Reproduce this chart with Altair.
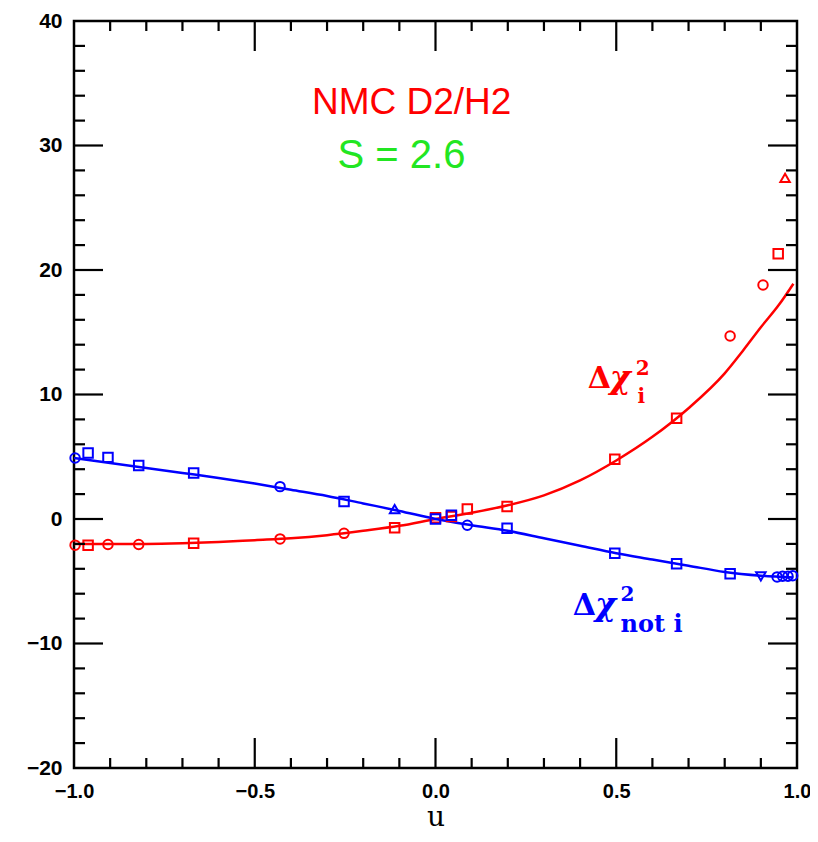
import altair as alt
import pandas as pd

# ---- data ----
u_pts = [-0.997, -0.961, -0.906, -0.821, -0.669, -0.430, -0.253, -0.113, 0.0, 0.044, 0.088,
         0.198, 0.496, 0.667, 0.815, 0.906, 0.948, 0.967]
red_pts = [-2.1, -2.1, -2.05, -2.05, -1.95, -1.6, -1.15, -0.7, 0.1, 0.2, 0.8,
           1.0, 4.8, 8.1, 14.7, 18.8, 21.3, 27.4]
red_shapes = ["circle", "square", "circle", "circle", "square", "circle", "circle", "square", "square",
              "square", "square", "square", "square", "square", "circle", "circle", "square", "triangle-up"]

u_blue = [-0.997, -0.961, -0.906, -0.821, -0.669, -0.430, -0.253, -0.113, 0.0, 0.044, 0.088,
          0.198, 0.496, 0.667, 0.815, 0.900, 0.945, 0.960, 0.975, 0.988]
blue_pts = [4.9, 5.3, 4.95, 4.3, 3.7, 2.6, 1.4, 0.8, 0.0, 0.3, -0.5,
            -0.75, -2.75, -3.6, -4.4, -4.6, -4.65, -4.6, -4.6, -4.55]
blue_shapes = ["circle", "square", "square", "square", "square", "circle", "square", "triangle-up", "square",
               "square", "circle", "square", "square", "square", "square", "triangle-down", "circle",
               "circle", "circle", "circle"]

u_red_curve = [-1.0, -0.9, -0.8, -0.7, -0.6, -0.5, -0.4, -0.3, -0.2, -0.1, 0.0, 0.1, 0.2, 0.3,
               0.4, 0.5, 0.6, 0.7, 0.8, 0.85, 0.9, 0.95, 0.99]
red_curve = [-2.0, -2.0, -2.0, -1.95, -1.85, -1.7, -1.55, -1.3, -0.95, -0.55, 0.0, 0.5, 1.1, 1.9,
             3.1, 4.7, 6.6, 8.9, 11.7, 13.5, 15.4, 17.2, 18.9]

u_blue_curve = [-1.0, -0.9, -0.8, -0.7, -0.6, -0.5, -0.4, -0.3, -0.2, -0.1, 0.0, 0.1, 0.2, 0.3,
                0.4, 0.5, 0.6, 0.7, 0.8, 0.9, 0.99]
blue_curve = [4.9, 4.5, 4.1, 3.7, 3.3, 2.85, 2.35, 1.85, 1.25, 0.65, 0.0, -0.5, -0.95, -1.55,
              -2.15, -2.75, -3.25, -3.75, -4.25, -4.55, -4.7]

x_major = [-0.5, 0.0, 0.5]
x_minor = [-0.9, -0.8, -0.7, -0.6, -0.4, -0.3, -0.2, -0.1, 0.1, 0.2, 0.3, 0.4, 0.6, 0.7, 0.8, 0.9]
y_major = [-10, 0, 10, 20, 30]
y_minor = [-18, -16, -14, -12, -8, -6, -4, -2, 2, 4, 6, 8, 12, 14, 16, 18, 22, 24, 26, 28, 32, 34, 36, 38]

W, H = 723, 747
RED, BLUE, GREEN = "#ff0000", "#0000ff", "#22e622"

xs = alt.Scale(domain=[-1, 1], nice=False, zero=False)
ys = alt.Scale(domain=[-20, 40], nice=False, zero=False)

X_AX = alt.Axis(values=[-1, -0.5, 0, 0.5, 1], format=".1f", ticks=False, domain=False, grid=False,
                labelFont="Liberation Sans", labelFontSize=20, labelFontWeight="bold", labelColor="black",
                labelPadding=13, title="u", titleFont="DejaVu Serif", titleFontSize=28,
                titleFontWeight="normal", titleColor="black", titleBaseline="alphabetic", titleY=57,
                labelFlush=False)
Y_AX = alt.Axis(values=[-20, -10, 0, 10, 20, 30, 40], format="d", ticks=False, domain=False, grid=False,
                labelFont="Liberation Sans", labelFontSize=21, labelFontWeight="bold", labelColor="black",
                labelPadding=12, title=None, labelFlush=False)

df_red_curve = pd.DataFrame({"u": u_red_curve, "v": red_curve})
df_blue_curve = pd.DataFrame({"u": u_blue_curve, "v": blue_curve})
df_red = pd.DataFrame({"u": u_pts, "v": red_pts, "s": red_shapes})
df_blue = pd.DataFrame({"u": u_blue, "v": blue_pts, "s": blue_shapes})

red_line = alt.Chart(df_red_curve).mark_line(color=RED, strokeWidth=2.5, interpolate="monotone").encode(
    x=alt.X("u:Q", scale=xs, axis=X_AX), y=alt.Y("v:Q", scale=ys, axis=Y_AX))
blue_line = alt.Chart(df_blue_curve).mark_line(color=BLUE, strokeWidth=2.5, interpolate="monotone").encode(
    x=alt.X("u:Q", scale=xs), y=alt.Y("v:Q", scale=ys))

shape_scale = alt.Scale(domain=["circle", "square", "triangle-up", "triangle-down"],
                        range=["circle", "square", "triangle-up", "triangle-down"])
red_pts_l = alt.Chart(df_red).mark_point(color=RED, strokeWidth=2, size=90, filled=False, opacity=1).encode(
    x=alt.X("u:Q", scale=xs), y=alt.Y("v:Q", scale=ys),
    shape=alt.Shape("s:N", scale=shape_scale, legend=None))
blue_pts_l = alt.Chart(df_blue).mark_point(color=BLUE, strokeWidth=2, size=90, filled=False, opacity=1).encode(
    x=alt.X("u:Q", scale=xs), y=alt.Y("v:Q", scale=ys),
    shape=alt.Shape("s:N", scale=shape_scale, legend=None))


def xticks(vals, length):
    d = pd.DataFrame({"u": vals})
    top = alt.Chart(d).mark_rule(color="black", strokeWidth=2.2).encode(
        x=alt.X("u:Q", scale=xs), y=alt.value(0), y2=alt.value(length))
    bot = alt.Chart(d).mark_rule(color="black", strokeWidth=2.2).encode(
        x=alt.X("u:Q", scale=xs), y=alt.value(H), y2=alt.value(H - length))
    return [top, bot]


def yticks(vals, length):
    d = pd.DataFrame({"v": vals})
    left = alt.Chart(d).mark_rule(color="black", strokeWidth=2.2).encode(
        y=alt.Y("v:Q", scale=ys), x=alt.value(0), x2=alt.value(length))
    right = alt.Chart(d).mark_rule(color="black", strokeWidth=2.2).encode(
        y=alt.Y("v:Q", scale=ys), x=alt.value(W), x2=alt.value(W - length))
    return [left, right]


tick_layers = xticks(x_major, 30) + xticks(x_minor, 10) + yticks(y_major, 29) + yticks(y_minor, 11)

# ---- annotations ----
def label(text, u, v, color, size, font="DejaVu Serif", weight="bold", style="normal", align="left"):
    d = pd.DataFrame({"u": [u], "v": [v], "t": [text]})
    return alt.Chart(d).mark_text(color=color, fontSize=size, font=font, fontWeight=weight,
                                  fontStyle=style, align=align, baseline="alphabetic").encode(
        x=alt.X("u:Q", scale=xs), y=alt.Y("v:Q", scale=ys), text="t:N")


annotations = [
    label("NMC D2/H2", -0.066, 32.5, RED, 37, font="Liberation Sans", weight="normal", align="center"),
    label("S = 2.6", -0.094, 28.2, GREEN, 40, font="Liberation Sans", weight="normal", align="center"),
    label("Δ", 0.421, 10.5, RED, 30),
    label("χ", 0.482, 10.5, RED, 32, style="italic"),
    label("2", 0.554, 11.6, RED, 20),
    label("i", 0.559, 9.3, RED, 20),
    label("Δ", 0.380, -7.7, BLUE, 30),
    label("χ", 0.441, -7.7, BLUE, 32, style="italic"),
    label("2", 0.512, -6.6, BLUE, 20),
    label("not i", 0.512, -9.1, BLUE, 24),
]

chart = alt.layer(red_line, blue_line, red_pts_l, blue_pts_l, *tick_layers, *annotations).properties(
    width=W, height=H,
    autosize=alt.AutoSizeParams(type="none"),
    padding={"left": 66, "top": 13, "right": 13, "bottom": 64},
    background="white",
).configure_view(stroke="black", strokeWidth=2.5)

chart.save("out.html", embed_options={"renderer": "svg", "actions": False})
